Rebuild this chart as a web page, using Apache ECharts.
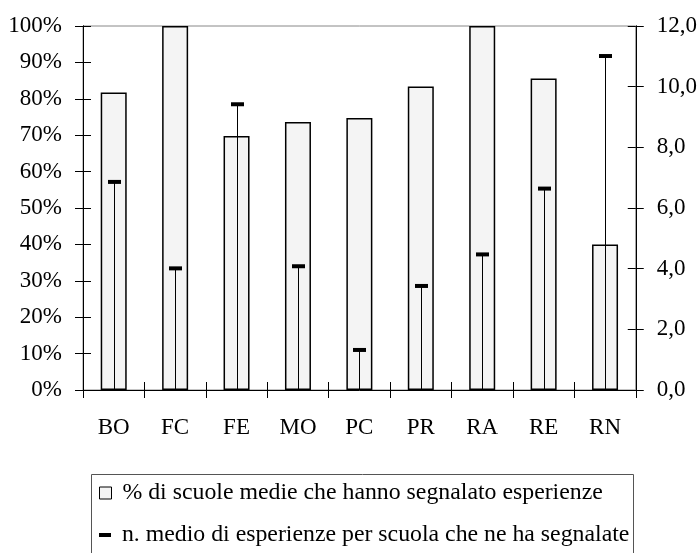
<!DOCTYPE html>
<html>
<head>
<meta charset="utf-8">
<script src="https://cdn.jsdelivr.net/npm/echarts@6/dist/echarts.min.js"></script>
<style>html,body{margin:0;padding:0;background:#fff}#c{width:700px;height:553px}</style>
</head>
<body>
<div id="c"></div>
<script>
const categories = ['BO','FC','FE','MO','PC','PR','RA','RE','RN'];
const pctSchools = [81.7, 100, 69.8, 73.6, 74.7, 83.4, 100, 85.6, 40.0];
const avgExperiences = [6.86, 4.01, 9.42, 4.08, 1.32, 3.43, 4.47, 6.64, 11.01];
const leftTicks = [0,10,20,30,40,50,60,70,80,90,100];
const rightTicks = [0,2,4,6,8,10,12];
const nameBars = '% di scuole medie che hanno segnalato esperienze';
const nameMarks = 'n. medio di esperienze per scuola che ne ha segnalate';

const FONT = 'Liberation Serif';
const chart = echarts.init(document.getElementById('c'), null, {renderer:'canvas'});
const lbl = {color:'#000', fontFamily:FONT, fontSize:23};
const legLbl = {color:'#000', fontFamily:FONT, fontSize:23.8};

const yBase = (idx, pos, inside, showLabel) => ({
  type:'value', position:pos, min:0,
  max: idx===0 ? leftTicks[leftTicks.length-1] : rightTicks[rightTicks.length-1],
  interval: idx===0 ? leftTicks[1]-leftTicks[0] : rightTicks[1]-rightTicks[0],
  splitLine:{show:false},
  axisLine:{show:true, lineStyle:{color:'#000', width:1}},
  axisTick:{show:true, inside:inside, length:8, lineStyle:{color:'#000'}},
  axisLabel:{show:showLabel, ...lbl, margin:21,
    formatter: idx===0 ? (v)=>v+'%' : (v)=>v.toFixed(1).replace('.',',')}
});

chart.setOption({
  animation:false,
  grid:{left:83, right:63, top:26, bottom:163, show:true, borderColor:'#888', borderWidth:1},
  xAxis:[
    {type:'category', data:categories, position:'bottom',
     axisLine:{lineStyle:{color:'#000', width:1}},
     axisTick:{show:true, length:8, lineStyle:{color:'#000'}},
     axisLabel:{...lbl, margin:26}},
    {type:'category', data:categories, position:'bottom',
     axisLine:{show:false},
     axisTick:{show:true, inside:true, length:8, lineStyle:{color:'#000'}},
     axisLabel:{show:false}}
  ],
  yAxis:[
    yBase(0,'left',false,true),
    yBase(1,'right',true,true),
    yBase(0,'left',true,false),
    yBase(1,'right',false,false)
  ],
  legend:[
    {left:99, top:481, padding:0, orient:'vertical', itemWidth:12, itemHeight:12, formatter:' {name}',
     textStyle:{...legLbl}, data:[{name:nameBars, icon:'rect', itemStyle:{color:'#f4f4f4', borderColor:'#000', borderWidth:1}}], selectedMode:false},
    {left:99, top:523, padding:0, orient:'vertical', itemWidth:12, itemHeight:4, formatter:' {name}',
     textStyle:{...legLbl}, data:[{name:nameMarks, icon:'rect', itemStyle:{color:'#000', borderWidth:0}}], selectedMode:false}
  ],
  graphic:[
    {type:'rect', left:89, top:472, shape:{width:542, height:90}, style:{fill:'none', stroke:'#555', lineWidth:1}, silent:true}
  ],
  series:[
    {name:nameBars, type:'bar', xAxisIndex:0, yAxisIndex:0, data:pctSchools, barWidth:26, z:2,
     itemStyle:{color:'#f4f4f4', borderColor:'#000', borderWidth:1.5}},
    {name:nameMarks, type:'custom', xAxisIndex:0, yAxisIndex:1, z:5,
     data: categories.map((c,i)=>[i, avgExperiences[i]]),
     encode:{x:0, y:1},
     renderItem:function(params, api){
       const top = api.coord([api.value(0), api.value(1)]);
       const base = api.coord([api.value(0), 0]);
       const x = Math.round(top[0]) + 0.5;
       return {type:'group', children:[
         {type:'line', shape:{x1:x, y1:base[1], x2:x, y2:top[1]}, style:{stroke:'#000', lineWidth:1}},
         {type:'rect', shape:{x:x-6.5, y:top[1]-2, width:13, height:4}, style:{fill:'#000'}}
       ]};
     }}
  ]
});
</script>
</body>
</html>
